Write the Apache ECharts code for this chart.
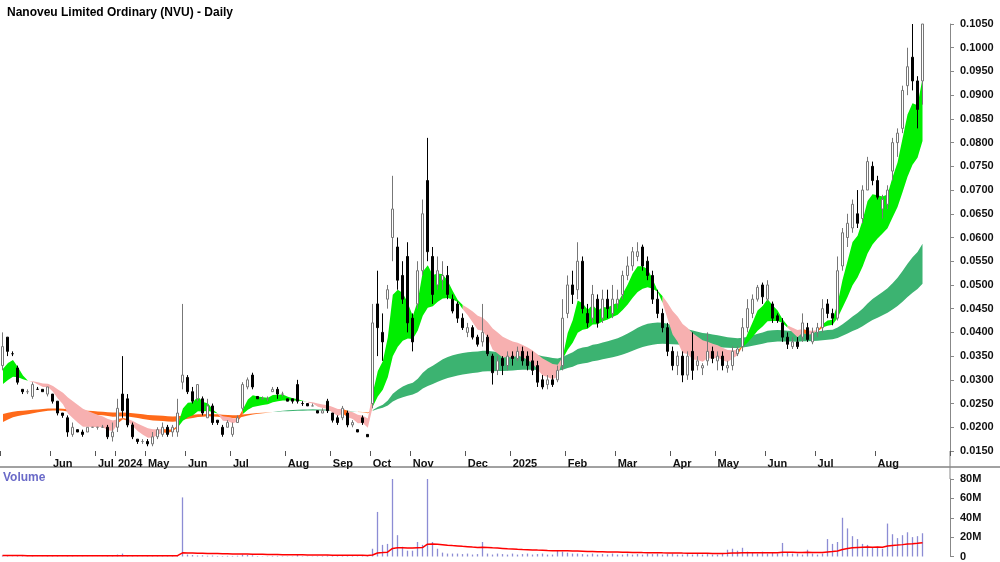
<!DOCTYPE html>
<html><head><meta charset="utf-8">
<script src="https://cdn.jsdelivr.net/npm/echarts@6/dist/echarts.min.js"></script>
<style>html,body{margin:0;padding:0;background:#fff}#c{width:1000px;height:562px}</style>
</head><body><div id="c"></div>
<script>
// prices in thousandths of a dollar: [open, close, low, high]
const candleMills = [
[33,37,32,40],[39,36,35,39],[35.5,35.5,35,36],[32.5,29.5,29,33],[28,27.5,27,28],[27.5,27.5,27,28],[26.5,29,26,29.5],[28,28,28,28.5],[28,27.5,27.5,28],[27,28.5,26.5,28.5],
[27,25.5,25,27],[25.5,23,22.5,25.5],[23,22.5,22,23],[22,19,18,22.5],[18.5,20,18,21],[19.5,19,19,19.5],[19,18.5,18,19.5],[19,20,19,20],[20,20,20,20],[20,20,19.5,20],
[20,20,20,20.5],[20,18,17.5,20.5],[18,19,17,21],[20,24,19,26],[27,23.5,22,35],[26,20.5,20,27],[20.5,18,17.5,21],[17.5,17,16.5,17.5],[17,17,16.5,17.5],[17,16.5,16,17.5],
[16.5,18,16,19],[18,19.5,17.5,20],[18.5,20,18,21],[20,18.5,18,20.5],[19,20,18,20.5],[19,23,18,26],[29.5,31,28,46],[30.5,27.5,27,31],[27.5,25.5,25,28.5],[26,29,25.5,29],
[26,23,22.5,26.5],[22,24.5,22,26],[24.5,21,20.5,25],[21.5,21,20.5,21.5],[20,18.5,18,20.5],[20,21,20,21.5],[18.5,20,18,21],[21,22,21,22.5],[24,29,23.5,29.5],[28.5,30,28,30.5],
[31,28.5,28,31.5],[26.5,26,26,26.5],[26,26,26,26.5],[26,26,25.5,26.5],[27.5,28,27.5,28.5],[28,27,26,28.5],[27,27,26.5,27.5],[26,25.5,25.5,26],[26,25.5,25,26],[29,25.5,25,30],
[25,25,24.5,25.5],[25,24.5,24.5,25],[24.5,24.5,24.5,25],[23.5,23,23,23.5],[23,23.5,23,24],[25.5,23.5,23,26],[23,21.5,21,23],[22,21,20.5,22.5],[22,24,21.5,24.5],[23,20.5,20,23.5],
[20.5,21,20,21.5],[19.5,19,19,19.5],[22,21,20.5,22.5],[18.5,18,18,18.5],[25,42,24,46],[46,41,35,53],[40,38,34,44],[47,49,45,50],[60,66,55,73],[58,51,49,60],
[52,47,46,55],[56,42,40,59],[43,38,36,44],[46,53,45,55],[53,65,52,68],[72,57,55,81],[56,48,46,58],[50,53,49,56],[51,52,49,55],[52,48,47,54],
[47,44.5,44,48],[46,43,42,46.5],[43,41,40.5,44],[40,41,39,42],[41,39,38.5,41.5],[39,37.5,37,39.5],[38,40,37,46],[39,35.5,35,39.5],[35,31.5,29,35.5],[32,34,31,35],
[34.5,33,31,35],[33,35,32,36],[35,34.5,33,36],[34.5,36,34,37],[36,34,33,37],[35,33,32,36],[34,32,31,36],[33,29.5,28.5,34],[30,28.5,28,31],[29,30,28,31],
[30,29,28.5,31],[30,32,29.5,33],[33,43,32,47],[44,50,43,52],[50,48,46,53],[49,55,47,59],[55,45,44,56],[44,42,41,46],[43,48,42,50],[47,42,41,48],
[43,47,42,49],[47,45,43,49],[44,47,43,50],[46,47,45,49],[48,52,47,53],[52,54,51,56],[54,57,53,58],[56,57,55,59],[58,54,53,58.5],[55,52,51,56],
[52,47,46,53],[47,44,43,49],[44,41,40,45],[41,36,35,42],[36,33,32,37],[33,35,31,36],[35,31,29.5,36],[31,35,30,36],[36,32,30,40],[33,34,32,35],
[32.5,33,31,33.5],[34,36,33,40],[36,34.5,33.5,37],[34,35,32,36],[35,33,32,36],[32.5,33,31.5,34],[33,36,32,37],[35.5,36.5,35,37],[37,41,36,43],[41,45,40,47],
[44,47,43,48],[47,49.5,46.5,50],[50,47.5,46,50.5],[47,50,46.5,51],[46,43,42,46.5],[43.5,42.5,42,44],[42,39,38,43],[39,37.5,36.5,40],[37,38,36.5,39],[38,37,36.5,39],
[39,42,38,44],[41,38.5,38,42],[38,40,37.5,41],[40,41,39,42],[41,45,40,47],[46,44,43,47],[44,43,41.5,45],[43,53,42.5,56],[54,61,53,62],[60,63,58,65],
[62,67,61,68],[65,63,62,70],[64,70,63,71],[70,76,70,77],[75,72,71,76],[72,68.5,68,73],[66,68,64,69],[67,70,66,71],[74,80,72,81],[80,82,77,83],
[83,91,82,92],[92,96,90,100],[98,93,91,105],[93,87,83,94],[93,105,88,105]
];
// volume in millions
const volumes = [
1,0.5,0.3,0.8,0.5,0.3,0.6,0.2,0.3,0.5,0.6,0.8,0.3,1.2,0.8,0.3,0.4,0.3,0.2,0.2,0.3,1,0.8,
2,3,1.5,1,0.4,0.3,0.5,0.8,0.6,0.7,0.5,0.8,1.5,
61,
2,1.5,1,1.2,0.8,1,0.6,0.5,0.7,0.6,0.8,2,1.5,1.2,0.5,0.3,0.3,0.6,0.7,0.4,0.3,0.3,1.5,0.4,0.3,0.3,0.4,0.5,1,0.8,0.6,0.9,0.7,0.5,0.4,0.6,0.5,
8,46,12,13,82,22,10,6,6,15,12,81,15,8,4,3,3,3,2.5,3,2,2.5,15,3,2,3,2.5,2,3,2,2.5,3,2,2.5,3,2,2,
6,5,4,3,3,2.5,2,3,2,2.5,2,3,2,2,3,2,2.5,2,3,2.5,3,2,2.5,3,2,2,2.5,2,3,2,2.5,2,2,3,
7,8,6,9,5,4,3,5,3,4,3,14,4,3,3,2,7,3,2,3,18,13,
15,40,29,21,18,13,12,9,10,8,34,23,19,22,25,20,21,24
];
const monthTicks = {0:'',10:'Jun',19:'Jul',23:'2024',29:'May',37:'Jun',46:'Jul',57:'Aug',66:'Sep',74:'Oct',82:'Nov',93:'Dec',102:'2025',113:'Feb',123:'Mar',134:'Apr',143:'May',153:'Jun',163:'Jul',175:'Aug'};
const emaSeeds = {shortFast:30, shortSlow:28, longFast:20.5, longSlow:22.5};
const emaPeriods = {shortFast:5, shortSlow:15, longFast:55, longSlow:100};
const volSeed = 1;
const totalSlots = 190;

const N = candleMills.length;
const categories = Array.from({length: totalSlots}, (_, i) => String(i));
const candles = candleMills.map(r => r.map(v => v / 1000));
const closes = candles.map(r => r[1]);
function ema(arr, p, seed) { let e = seed, k = 2 / (p + 1); return arr.map(c => (e = e + k * (c - e))); }
const sf = ema(closes, emaPeriods.shortFast, emaSeeds.shortFast / 1000), ss = ema(closes, emaPeriods.shortSlow, emaSeeds.shortSlow / 1000);
const lf = ema(closes, emaPeriods.longFast, emaSeeds.longFast / 1000), ls = ema(closes, emaPeriods.longSlow, emaSeeds.longSlow / 1000);
const volMA = ema(volumes, 40, volSeed);

const series = [];
function band(a, b, colorOf, tag) {
  const lo = a.map((v, i) => Math.min(v, b[i])), d = a.map((v, i) => Math.abs(v - b[i]));
  const cols = a.map((v, i) => colorOf(i));
  [...new Set(cols)].forEach((col, j) => {
    const st = tag + j;
    const m = cols.map(c => c === col);
    series.push({type: 'line', stack: st, data: lo, symbol: 'none', lineStyle: {opacity: 0}, silent: true, z: 1});
    series.push({type: 'line', stack: st, data: d.map((v, i) => (m[i] || (i > 0 && m[i - 1])) ? v : '-'), symbol: 'none',
      lineStyle: {width: 0}, areaStyle: {color: col, opacity: 1}, silent: true, z: 1});
  });
}
band(lf, ls, i => lf[i] >= ls[i] ? '#3cb371' : '#ff6a1a', 'L');
band(sf, ss, i => sf[i] >= ss[i] ? '#00ee00' : ((i > 0 && ss[i] >= ss[i - 1]) ? '#ff6a1a' : '#f7b0b0'), 'S');
series.push({type: 'candlestick', data: candles, barMaxWidth: 3.2, z: 5,
  itemStyle: {color: '#ffffff', color0: '#000000', borderColor: '#777777', borderColor0: '#000000', borderWidth: 1}});
series.push({type: 'bar', xAxisIndex: 1, yAxisIndex: 1, data: volumes, barWidth: 1.3, itemStyle: {color: '#8c8cd4'}});
series.push({type: 'line', xAxisIndex: 1, yAxisIndex: 1, data: volMA, symbol: 'none', lineStyle: {color: '#ff0000', width: 1.5}, z: 5});

const isTick = (i) => monthTicks[i] !== undefined;
const chart = echarts.init(document.getElementById('c'));
chart.setOption({
  animation: false,
  textStyle: {fontFamily: 'Liberation Sans'},
  title: {text: 'Nanoveu Limited Ordinary (NVU) - Daily', left: 2, top: 2, textStyle: {fontSize: 12, fontWeight: 'bold', color: '#000'}},
  grid: [{left: 0, right: 50, top: 24, height: 427}, {left: 0, right: 50, top: 479, height: 78}],
  xAxis: [
    {type: 'category', data: categories, gridIndex: 0, boundaryGap: true,
     axisLine: {show: false},
     axisTick: {show: true, interval: (i) => isTick(i), length: 5, lineStyle: {color: '#555'}},
     axisLabel: {interval: (i) => isTick(i), formatter: (v) => monthTicks[v] || '', align: 'left', margin: 7, fontSize: 11, fontWeight: 'bold', color: '#111'},
     splitLine: {show: false}},
    {type: 'category', data: categories, gridIndex: 1, boundaryGap: true, axisLine: {show: false}, axisTick: {show: false}, axisLabel: {show: false}}
  ],
  yAxis: [
    {type: 'value', position: 'right', gridIndex: 0, min: 0.015, max: 0.105, interval: 0.005, splitLine: {show: false},
     axisLine: {show: true, lineStyle: {color: '#888'}}, axisTick: {show: true, length: 4, lineStyle: {color: '#888'}},
     axisLabel: {formatter: v => v.toFixed(4), fontSize: 11, fontWeight: 'bold', color: '#111', margin: 10}},
    {type: 'value', position: 'right', gridIndex: 1, min: 0, max: 80, interval: 20, splitLine: {show: false},
     axisLine: {show: true, lineStyle: {color: '#888'}}, axisTick: {show: true, length: 4, lineStyle: {color: '#888'}},
     axisLabel: {formatter: v => v === 0 ? '0' : v + 'M', fontSize: 11, fontWeight: 'bold', color: '#111', margin: 10}}
  ],
  graphic: [
    {type: 'line', shape: {x1: 0, y1: 467, x2: 1000, y2: 467}, style: {stroke: '#444', lineWidth: 1}},
    {type: 'line', shape: {x1: 950, y1: 451, x2: 950, y2: 479}, style: {stroke: '#888', lineWidth: 1}},
    {type: 'text', left: 3, top: 472, style: {text: 'Volume', fill: '#6a6ac8', font: 'bold 12px Liberation Sans'}}
  ],
  series: series
});
</script></body></html>
